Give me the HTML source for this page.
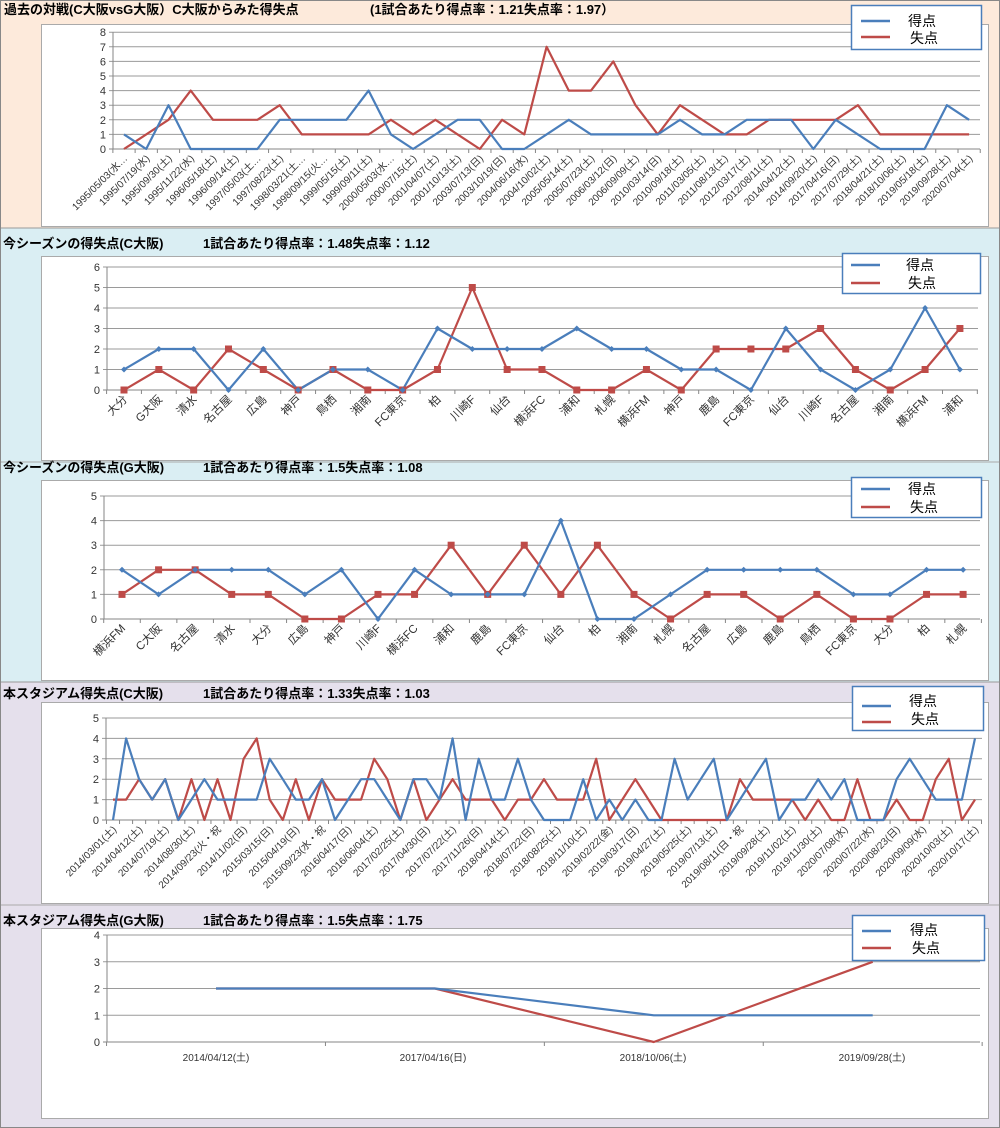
<!DOCTYPE html>
<html><head><meta charset="utf-8"><style>
html,body{margin:0;padding:0;background:#fff}
svg{display:block}
text{font-family:"Liberation Sans","Noto Sans CJK JP",sans-serif}
.t{font-size:13px;font-weight:bold;fill:#000}
.yl text{font-size:11px;fill:#333;text-anchor:end}
.xl text{fill:#333;text-anchor:end}
.lg{font-size:14px;fill:#000}
</style></head><body>
<svg id="s" width="1000" height="1128" viewBox="0 0 1000 1128" xmlns="http://www.w3.org/2000/svg">
<rect x="0" y="0" width="1000" height="228" fill="#fdeadb"/>
<rect x="0" y="228" width="1000" height="454" fill="#daeef3"/>
<rect x="0" y="682" width="1000" height="446" fill="#e5e0ec"/>
<line x1="0" y1="228" x2="1000" y2="228" stroke="#999"/>
<line x1="0" y1="462" x2="1000" y2="462" stroke="#aaa"/>
<line x1="0" y1="682" x2="1000" y2="682" stroke="#999"/>
<line x1="0" y1="905" x2="1000" y2="905" stroke="#aaa"/>
<rect x="0.5" y="0.5" width="999" height="1127" fill="none" stroke="#888"/>

<rect x="41.5" y="24.5" width="947" height="202" fill="#fff" stroke="#aaa"/>
<rect x="41.5" y="256.5" width="947" height="204" fill="#fff" stroke="#aaa"/>
<rect x="41.5" y="480.5" width="947" height="200" fill="#fff" stroke="#aaa"/>
<rect x="41.5" y="702.5" width="947" height="201" fill="#fff" stroke="#aaa"/>
<rect x="41.5" y="928.5" width="947" height="190" fill="#fff" stroke="#aaa"/>

<text class="t" x="4" y="14">過去の対戦(C大阪vsG大阪）C大阪からみた得失点</text>
<text class="t" x="370" y="14">(1試合あたり得点率：1.21失点率：1.97）</text>
<text class="t" x="3" y="248">今シーズンの得失点(C大阪)</text>
<text class="t" x="203" y="248">1試合あたり得点率：1.48失点率：1.12</text>
<text class="t" x="3" y="472">今シーズンの得失点(G大阪)</text>
<text class="t" x="203" y="472">1試合あたり得点率：1.5失点率：1.08</text>
<text class="t" x="3" y="698">本スタジアム得失点(C大阪)</text>
<text class="t" x="203" y="698">1試合あたり得点率：1.33失点率：1.03</text>
<text class="t" x="3" y="925">本スタジアム得失点(G大阪)</text>
<text class="t" x="203" y="925">1試合あたり得点率：1.5失点率：1.75</text>

<g id="g1"></g><g id="g2"></g><g id="g3"></g><g id="g4"></g><g id="g5"></g>

<g id="y1" class="yl"><text>0</text><text>1</text><text>2</text><text>3</text><text>4</text><text>5</text><text>6</text><text>7</text><text>8</text></g>
<g id="y2" class="yl"><text>0</text><text>1</text><text>2</text><text>3</text><text>4</text><text>5</text><text>6</text></g>
<g id="y3" class="yl"><text>0</text><text>1</text><text>2</text><text>3</text><text>4</text><text>5</text></g>
<g id="y4" class="yl"><text>0</text><text>1</text><text>2</text><text>3</text><text>4</text><text>5</text></g>
<g id="y5" class="yl"><text>0</text><text>1</text><text>2</text><text>3</text><text>4</text></g>

<g id="x1" class="xl" style="font-size:10px"><text>1995/05/03(水…</text><text>1995/07/19(水)</text><text>1995/09/30(土)</text><text>1995/11/22(水)</text><text>1996/05/18(土)</text><text>1996/09/14(土)</text><text>1997/05/03(土…</text><text>1997/08/23(土)</text><text>1998/03/21(土…</text><text>1998/09/15(火…</text><text>1999/05/15(土)</text><text>1999/09/11(土)</text><text>2000/05/03(水…</text><text>2000/07/15(土)</text><text>2001/04/07(土)</text><text>2001/10/13(土)</text><text>2003/07/13(日)</text><text>2003/10/19(日)</text><text>2004/06/16(水)</text><text>2004/10/02(土)</text><text>2005/05/14(土)</text><text>2005/07/23(土)</text><text>2006/03/12(日)</text><text>2006/09/09(土)</text><text>2010/03/14(日)</text><text>2010/09/18(土)</text><text>2011/03/05(土)</text><text>2011/08/13(土)</text><text>2012/03/17(土)</text><text>2012/08/11(土)</text><text>2014/04/12(土)</text><text>2014/09/20(土)</text><text>2017/04/16(日)</text><text>2017/07/29(土)</text><text>2018/04/21(土)</text><text>2018/10/06(土)</text><text>2019/05/18(土)</text><text>2019/09/28(土)</text><text>2020/07/04(土)</text></g>
<g id="x2" class="xl" style="font-size:11.5px"><text>大分</text><text>G大阪</text><text>清水</text><text>名古屋</text><text>広島</text><text>神戸</text><text>鳥栖</text><text>湘南</text><text>FC東京</text><text>柏</text><text>川崎F</text><text>仙台</text><text>横浜FC</text><text>浦和</text><text>札幌</text><text>横浜FM</text><text>神戸</text><text>鹿島</text><text>FC東京</text><text>仙台</text><text>川崎F</text><text>名古屋</text><text>湘南</text><text>横浜FM</text><text>浦和</text></g>
<g id="x3" class="xl" style="font-size:11.5px"><text>横浜FM</text><text>C大阪</text><text>名古屋</text><text>清水</text><text>大分</text><text>広島</text><text>神戸</text><text>川崎F</text><text>横浜FC</text><text>浦和</text><text>鹿島</text><text>FC東京</text><text>仙台</text><text>柏</text><text>湘南</text><text>札幌</text><text>名古屋</text><text>広島</text><text>鹿島</text><text>鳥栖</text><text>FC東京</text><text>大分</text><text>柏</text><text>札幌</text></g>
<g id="x4" class="xl" style="font-size:10px"><text>2014/03/01(土)</text><text>2014/04/12(土)</text><text>2014/07/19(土)</text><text>2014/08/30(土)</text><text>2014/09/23(火・祝</text><text>2014/11/02(日)</text><text>2015/03/15(日)</text><text>2015/04/19(日)</text><text>2015/09/23(水・祝</text><text>2016/04/17(日)</text><text>2016/06/04(土)</text><text>2017/02/25(土)</text><text>2017/04/30(日)</text><text>2017/07/22(土)</text><text>2017/11/26(日)</text><text>2018/04/14(土)</text><text>2018/07/22(日)</text><text>2018/08/25(土)</text><text>2018/11/10(土)</text><text>2019/02/22(金)</text><text>2019/03/17(日)</text><text>2019/04/27(土)</text><text>2019/05/25(土)</text><text>2019/07/13(土)</text><text>2019/08/11(日・祝</text><text>2019/09/28(土)</text><text>2019/11/02(土)</text><text>2019/11/30(土)</text><text>2020/07/08(水)</text><text>2020/07/22(水)</text><text>2020/08/23(日)</text><text>2020/09/09(水)</text><text>2020/10/03(土)</text><text>2020/10/17(土)</text></g>
<g id="x5" style="font-size:10px;fill:#333;text-anchor:middle"><text x="216" y="1061">2014/04/12(土)</text><text x="433" y="1061">2017/04/16(日)</text><text x="653" y="1061">2018/10/06(土)</text><text x="872" y="1061">2019/09/28(土)</text></g>

<g id="lg">
<rect x="851.5" y="5.5" width="130" height="44" fill="#fff" stroke="#4a7ebb" stroke-width="1.5"/>
<text class="lg" x="908" y="26">得点</text><text class="lg" x="910" y="43">失点</text>
<rect x="842.5" y="253.5" width="138" height="40" fill="#fff" stroke="#4a7ebb" stroke-width="1.5"/>
<text class="lg" x="906" y="270">得点</text><text class="lg" x="908" y="288">失点</text>
<rect x="851.5" y="477.5" width="130" height="40" fill="#fff" stroke="#4a7ebb" stroke-width="1.5"/>
<text class="lg" x="908" y="494">得点</text><text class="lg" x="910" y="512">失点</text>
<rect x="852.5" y="686.5" width="131" height="44" fill="#fff" stroke="#4a7ebb" stroke-width="1.5"/>
<text class="lg" x="909" y="706">得点</text><text class="lg" x="911" y="724">失点</text>
<rect x="852.5" y="915.5" width="132" height="45" fill="#fff" stroke="#4a7ebb" stroke-width="1.5"/>
<text class="lg" x="910" y="935">得点</text><text class="lg" x="912" y="953">失点</text>
</g>
</svg>
<script>
var NS="http://www.w3.org/2000/svg";
function el(p,n,a){var e=document.createElementNS(NS,n);for(var k in a)e.setAttribute(k,a[k]);p.appendChild(e);return e;}
var B="#4a7ebb",R="#be4b48";
var C=[
{g:"g1",y:"y1",x:"x1",ax:113,r:980,y0:149,u:14.6,m:8,x0:124,dx:22.24,n:39,step:1,mk:0,
 b:[1,0,3,0,0,0,0,2,2,2,2,4,1,0,1,2,2,0,0,1,2,1,1,1,1,2,1,1,2,2,2,0,2,1,0,0,0,3,2],
 r2:[0,1,2,4,2,2,2,3,1,1,1,1,2,1,2,1,0,2,1,7,4,4,6,3,1,3,2,1,1,2,2,2,2,3,1,1,1,1,1]},
{g:"g2",y:"y2",x:"x2",ax:107,r:978,y0:390,u:20.5,m:6,x0:124,dx:34.83,n:25,step:1,mk:1,
 b:[1,2,2,0,2,0,1,1,0,3,2,2,2,3,2,2,1,1,0,3,1,0,1,4,1],
 r2:[0,1,0,2,1,0,1,0,0,1,5,1,1,0,0,1,0,2,2,2,3,1,0,1,3]},
{g:"g3",y:"y3",x:"x3",ax:104,r:980,y0:619,u:24.6,m:5,x0:122,dx:36.57,n:24,step:1,mk:1,
 b:[2,1,2,2,2,1,2,0,2,1,1,1,4,0,0,1,2,2,2,2,1,1,2,2],
 r2:[1,2,2,1,1,0,0,1,1,3,1,3,1,3,1,0,1,1,0,1,0,0,1,1]},
{g:"g4",y:"y4",x:"x4",ax:106,r:982,y0:820,u:20.4,m:5,x0:113,dx:13.06,n:67,step:2,mk:0,
 b:[0,4,2,1,2,0,1,2,1,1,1,1,3,2,1,1,2,0,1,2,2,1,0,2,2,1,4,0,3,1,1,3,1,0,0,0,2,0,1,0,1,0,0,3,1,2,3,0,1,2,3,0,1,1,2,1,2,0,0,0,2,3,2,1,1,1,4],
 r2:[1,1,2,1,2,0,2,0,2,0,3,4,1,0,2,0,2,1,1,1,3,2,0,2,0,1,2,1,1,1,0,1,1,2,1,1,1,3,0,1,2,1,0,0,0,0,0,0,2,1,1,1,1,0,1,0,0,2,0,0,1,0,0,2,3,0,1]},
{g:"g5",y:"y5",x:null,ax:107,r:980,y0:1042,u:26.75,m:4,x0:216,dx:218.9,n:4,step:1,mk:0,
 b:[2,2,1,1],r2:[2,2,0,3]}
];
C.forEach(function(c){
 var g=document.getElementById(c.g);
 for(var k=0;k<=c.m;k++){var yy=c.y0-k*c.u;
  el(g,"line",{x1:c.ax-4,y1:yy,x2:c.r,y2:yy,stroke:k==0?"#868686":"#9a9a9a","stroke-width":1});}
 el(g,"line",{x1:c.ax,y1:c.y0-c.m*c.u,x2:c.ax,y2:c.y0,stroke:"#868686"});
 for(var i=0;i<=c.n;i++){var tx=c.x0-c.dx/2+i*c.dx;
  el(g,"line",{x1:tx,y1:c.y0,x2:tx,y2:c.y0+4,stroke:"#868686"});}
 var ys=document.getElementById(c.y).children;
 for(var k=0;k<ys.length;k++){ys[k].setAttribute("x",c.ax-7);ys[k].setAttribute("y",c.y0-k*c.u+4);}
 if(c.x){var xs=document.getElementById(c.x).children;
  for(var k=0;k<xs.length;k++){var px=c.x0+k*c.step*c.dx;
   xs[k].setAttribute("transform","translate("+(px+4)+","+(c.y0+10)+") rotate(-45)");}}
 [[c.r2,R],[c.b,B]].forEach(function(s){
  var pts=s[0].map(function(v,i){return (c.x0+i*c.dx).toFixed(1)+","+(c.y0-v*c.u).toFixed(1);}).join(" ");
  el(g,"polyline",{points:pts,fill:"none",stroke:s[1],"stroke-width":2.2,"stroke-linejoin":"round"});
 });
 if(c.mk){
  c.r2.forEach(function(v,i){var x=c.x0+i*c.dx,y=c.y0-v*c.u;el(g,"rect",{x:x-3.5,y:y-3.5,width:7,height:7,fill:R});});
  c.b.forEach(function(v,i){var x=c.x0+i*c.dx,y=c.y0-v*c.u;el(g,"path",{d:"M"+x+" "+(y-3)+"L"+(x+3)+" "+y+"L"+x+" "+(y+3)+"L"+(x-3)+" "+y+"Z",fill:B});});
 }
});
var lg=document.getElementById("lg");
[[861,890,21,37],[851,880,265,283],[861,890,489,507],[862,891,706,722],[862,891,931,948]].forEach(function(a){
 el(lg,"line",{x1:a[0],y1:a[2],x2:a[1],y2:a[2],stroke:B,"stroke-width":2.5});
 el(lg,"line",{x1:a[0],y1:a[3],x2:a[1],y2:a[3],stroke:R,"stroke-width":2.5});
});
</script>
</body></html>
